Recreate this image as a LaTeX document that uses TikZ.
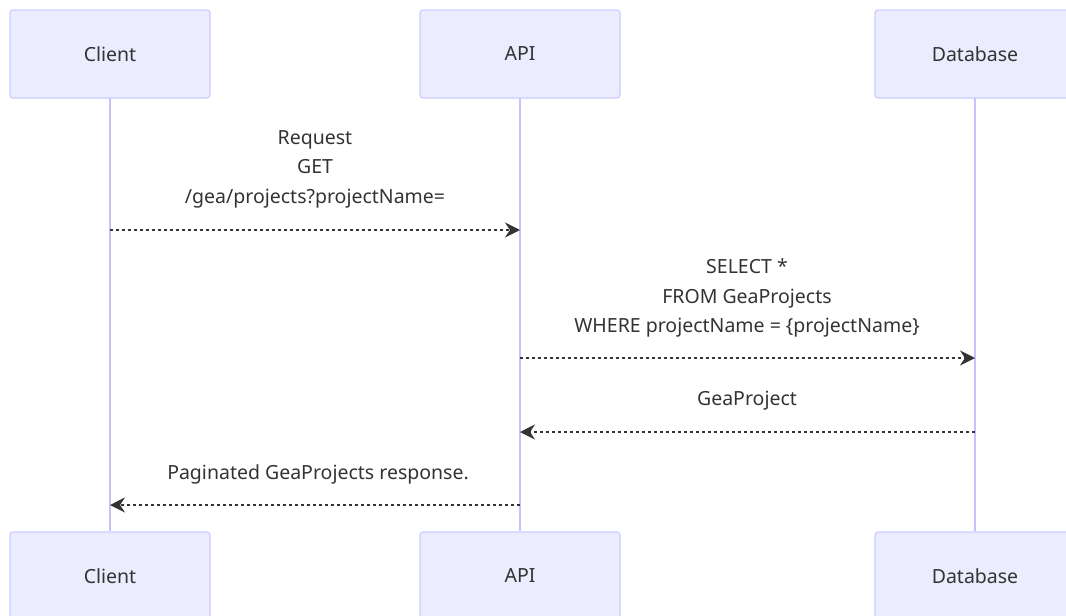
\documentclass[tikz,border=0pt]{standalone}
\usepackage{fontspec}
\setmainfont{Noto Sans}
\usetikzlibrary{arrows.meta}
\definecolor{actorfill}{HTML}{ECECFF}
\definecolor{actorline}{HTML}{CCCCFF}
\definecolor{lifeline}{HTML}{C4C4FA}
\definecolor{ink}{HTML}{333333}
\tikzset{
  actor/.style={draw=actorline, fill=actorfill, line width=1.2pt, rounded corners=3pt,
    minimum width=200pt, minimum height=88pt, inner sep=0pt, text=ink, font=\fontsize{19.5}{22}\selectfont},
  life/.style={draw=lifeline, line width=1.8pt},
  reply/.style={draw=ink, line width=1.5pt, dash pattern=on 3pt off 3pt,
    -{Stealth[length=15pt, width=15pt, inset=5pt]}},
  msg/.style={text=ink, align=center, font=\fontsize{19.5}{29.5}\selectfont, inner sep=0pt}
}
\begin{document}
\begin{tikzpicture}[x=1pt, y=-1pt]
\useasboundingbox (0,0) rectangle (1066,616);
\clip (0,0) rectangle (1066,616);
% lifelines
\draw[life] (110,98) -- (110,531);
\draw[life] (520,98) -- (520,531);
\draw[life] (975,98) -- (975,531);
% actors, top and bottom
\node[actor] (ct) at (110,54) {Client};
\node[actor] (at) at (520,54) {API};
\node[actor] (dt) at (975,54) {Database};
\node[actor] (cb) at (110,576) {Client};
\node[actor] (ab) at (520,576) {API};
\node[actor] (db) at (975,576) {Database};
% message endpoints on the lifelines
\coordinate (m1a) at (110,230);
\coordinate (m1b) at (520,230);
\coordinate (m2a) at (520,358);
\coordinate (m2b) at (975,358);
\coordinate (m3a) at (975,432);
\coordinate (m3b) at (520,432);
\coordinate (m4a) at (520,505);
\coordinate (m4b) at (110,505);
\draw[reply] (m1a) -- (m1b);
\draw[reply] (m2a) -- (m2b);
\draw[reply] (m3a) -- (m3b);
\draw[reply] (m4a) -- (m4b);
% message texts
\node[msg] (t1) at (315,169) {Request\\GET\\/gea/projects?projectName=};
\node[msg] (t2) at (747,298) {SELECT *\\FROM GeaProjects\\WHERE projectName = \{projectName\}};
\node[msg] (t3) at (747,401) {GeaProject};
\node[msg] (t4) at (318,474) {Paginated GeaProjects response.};
\end{tikzpicture}
\end{document}
